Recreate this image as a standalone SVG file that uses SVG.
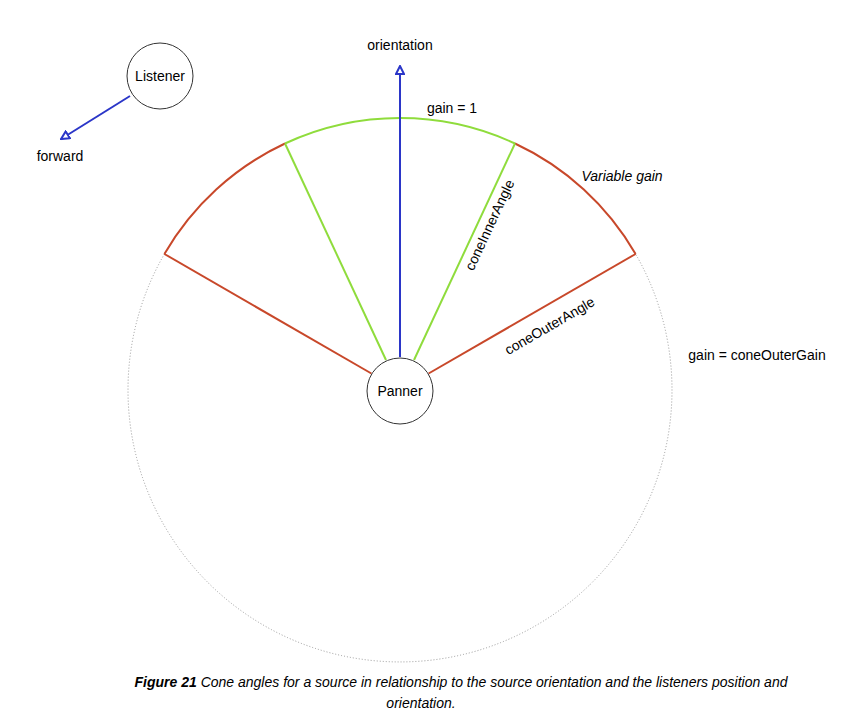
<svg xmlns="http://www.w3.org/2000/svg" width="843" height="720" viewBox="0 0 843 720">
<style>
text{font-family:"Liberation Sans",Arial,sans-serif;font-size:14px;fill:#000}
.node{fill:#fff;stroke:#333;stroke-width:1}
.red{stroke:#c8482a;stroke-width:2;fill:none}
.grn{stroke:#8fdc3c;stroke-width:2;fill:none}
.blue{stroke:#2b36c8;stroke-width:2;fill:none}
</style>
<defs>
<marker id="ah" viewBox="0 0 10 10" refX="9" refY="5" markerWidth="5" markerHeight="5" orient="auto"><path d="M1,1 L9,5 L1,9 Z" fill="#fff" stroke="#2b36c8" stroke-width="2"/></marker>
</defs>
<rect width="843" height="720" fill="#fff"/>
<g id="connectors">
<path d="M164.4,254 A272,272 0 1 0 635.6,254" fill="none" stroke="#999" stroke-width="1" stroke-dasharray="1,2"/>
<path class="red" d="M164.4,254 A272,272 0 0 1 285,143.5"/>
<path class="red" d="M515,143.5 A272,272 0 0 1 635.6,254"/>
<path class="grn" d="M285,143.5 A272,272 0 0 1 515,143.5"/>
<line class="red" x1="164.4" y1="254" x2="371.4" y2="373.5"/>
<line class="red" x1="635.6" y1="254" x2="428.6" y2="373.5"/>
<line class="grn" x1="285" y1="143.5" x2="386" y2="360"/>
<line class="grn" x1="515" y1="143.5" x2="414" y2="360"/>
<line class="blue" x1="400" y1="357" x2="400" y2="66" marker-end="url(#ah)"/>
<line class="blue" x1="130" y1="96" x2="61" y2="139" marker-end="url(#ah)"/>
</g>
<g id="panner"><circle class="node" cx="400" cy="391" r="33"/><text x="400" y="396" text-anchor="middle">Panner</text></g>
<g id="listener"><circle class="node" cx="160" cy="76" r="33"/><text x="160" y="81" text-anchor="middle">Listener</text></g>
<g id="labels">
<text x="400" y="50" text-anchor="middle">orientation</text>
<text x="60" y="161" text-anchor="middle">forward</text>
<text x="452" y="113" text-anchor="middle">gain = 1</text>
<text x="622" y="181" text-anchor="middle" font-style="italic">Variable gain</text>
<text x="757" y="360" text-anchor="middle">gain = coneOuterGain</text>
<text transform="translate(494,227) rotate(-65)" text-anchor="middle">coneInnerAngle</text>
<text transform="translate(552,330) rotate(-30)" text-anchor="middle">coneOuterAngle</text>
</g>
<g id="caption">
<text x="461" y="687" text-anchor="middle" font-style="italic" font-size="16"><tspan font-weight="bold">Figure 21</tspan> Cone angles for a source in relationship to the source orientation and the listeners position and</text>
<text x="421" y="708" text-anchor="middle" font-style="italic" font-size="16">orientation.</text>
</g>
</svg>
